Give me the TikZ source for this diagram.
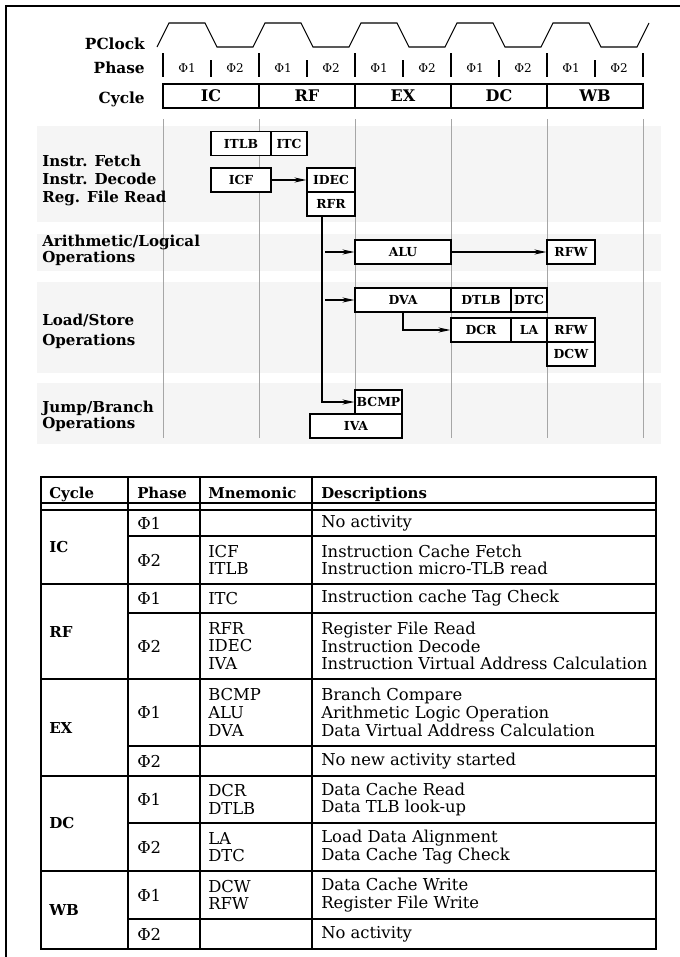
\documentclass[tikz,border=0pt]{standalone}
\usepackage{fontspec}
\setmainfont{DejaVu Serif}
\usetikzlibrary{arrows.meta,calc}

\begin{document}
\begin{tikzpicture}[x=0.75pt, y=-0.75pt,
  box/.style={rectangle, draw, line width=0.9pt, fill=white, inner sep=0pt, minimum height=18pt, minimum width=#1*0.75pt, font=\fontsize{9.3}{10}\selectfont\bfseries},
  cycbox/.style={rectangle, draw, line width=0.9pt, inner sep=0pt, minimum height=18pt, minimum width=72pt, font=\fontsize{12}{14}\selectfont\bfseries},
  arr/.style={-{Stealth[length=9pt, width=3.8pt]}, line width=0.9pt},
  rowlbl/.style={anchor=west, align=left, inner sep=0pt, font=\fontsize{11.3}{#1}\selectfont\bfseries},
  toplbl/.style={anchor=base east, inner sep=0pt, font=\fontsize{11.5}{13}\selectfont\bfseries},
  phi/.style={inner sep=0pt, font=\fontsize{9}{10}\selectfont},
  grid/.style={gray!70, line width=0.6pt},
  band/.style={fill=black!4},
  tcell/.style={anchor=west, align=left, inner sep=0pt, font=\fontsize{12.3}{13.3}\selectfont},
  thead/.style={anchor=base west, inner sep=0pt, font=\fontsize{11.2}{13}\selectfont\bfseries},
  tcyc/.style={anchor=west, inner sep=0pt, font=\fontsize{11.3}{13}\selectfont\bfseries},
  tline/.style={line width=0.9pt}
]
  \useasboundingbox (0,0) rectangle (679,957);
  \draw[line width=1pt] (6,975) -- (6,6) -- (690,6);

  \fill[band] (37,126) rectangle (661,222);
  \fill[band] (37,234) rectangle (661,271);
  \fill[band] (37,282) rectangle (661,373);
  \fill[band] (37,383) rectangle (661,444);
  \foreach \b in {163,259,...,643} \draw[grid] (\b,119) -- (\b,438);

  \node[toplbl] (pclock) at (145,49) {PClock};
  \node[toplbl] (phase) at (145,73) {Phase};
  \node[toplbl] (cycle) at (145,103) {Cycle};

  \draw[line width=0.8pt] (157,47) \foreach \b in {163,259,...,547} { -- (\b+6,23) -- (\b+42,23) -- (\b+54,47) -- (\b+90,47) } -- (649,23);
  \foreach \b in {163,259,...,643} \draw[line width=0.8pt] (\b,53) -- (\b,77);
  \foreach \b in {163,259,...,547} {
    \draw[line width=0.8pt] (\b+48,60) -- (\b+48,77);
    \node[phi] (pa\b) at (\b+24,68) {Φ1};
    \node[phi] (pb\b) at (\b+72,68) {Φ2};
  }

  \node[cycbox] (ic) at (211,96) {IC};
  \node[cycbox] (rf) at (307,96) {RF};
  \node[cycbox] (ex) at (403,96) {EX};
  \node[cycbox] (dc) at (499,96) {DC};
  \node[cycbox] (wb) at (595,96) {WB};

  \node[rowlbl=13.5pt] (fetch) at (42,180) {Instr. Fetch\\Instr. Decode\\Reg. File Read};
  \node[rowlbl=12pt] (arith) at (42,250) {Arithmetic/Logical\\Operations};
  \node[rowlbl=15pt] (ldst) at (42,331) {Load/Store\\Operations};
  \node[rowlbl=12pt] (jump) at (42,416) {Jump/Branch\\Operations};

  \node[box=60] (itlb) at (241,143.5) {ITLB};
  \node[box=36] (itc) at (289,143.5) {ITC};
  \node[box=60] (icf) at (241,180) {ICF};
  \node[box=48] (idec) at (331,180) {IDEC};
  \node[box=48] (rfr) at (331,204) {RFR};
  \node[box=96] (alu) at (403,252) {ALU};
  \node[box=48] (rfwa) at (571,252) {RFW};
  \node[box=96] (dva) at (403,300) {DVA};
  \node[box=60] (dtlb) at (481,300) {DTLB};
  \node[box=36] (dtc) at (529,300) {DTC};
  \node[box=60] (dcr) at (481,330) {DCR};
  \node[box=36] (la) at (529,330) {LA};
  \node[box=48] (rfwb) at (571,330) {RFW};
  \node[box=48] (dcw) at (571,354) {DCW};
  \node[box=47] (bcmp) at (378.5,402) {BCMP};
  \node[box=92] (iva) at (356,426) {IVA};

  \coordinate (bus) at (322,216);
  \draw[arr] (icf) -- (idec);
  \draw[arr] (alu) -- (rfwa);
  \draw[arr] (dva.south) |- (dcr);
  \draw[arr] (bus) |- (bcmp);
  \draw[arr] ($(bus |- alu)+(3,0)$) -- (alu);
  \draw[arr] ($(bus |- dva)+(3,0)$) -- (dva);

  \draw[tline] (41,477) rectangle (656,949);
  \foreach \y in {503,510,584,679,776,871} \draw[tline] (41,\y) -- (656,\y);
  \foreach \y in {536,613,746,823,919} \draw[tline] (128,\y) -- (656,\y);
  \foreach \x in {128,200,312} \draw[tline] (\x,477) -- (\x,949);

  \node[thead] (hcyc) at (49,498) {Cycle};
  \node[thead] (hph) at (137,498) {Phase};
  \node[thead] (hmn) at (208,498) {Mnemonic};
  \node[thead] (hds) at (321,498) {Descriptions};

  \node[tcyc] (tic) at (49,547) {IC};
  \node[tcyc] (trf) at (49,631.5) {RF};
  \node[tcyc] (tex) at (49,727.5) {EX};
  \node[tcyc] (tdc) at (49,823.5) {DC};
  \node[tcyc] (twb) at (49,910) {WB};

  \foreach \y/\p/\m/\d [count=\i] in {
    523/1/{}/{No activity},
    560/2/{ICF\\ITLB}/{Instruction Cache Fetch\\Instruction micro-TLB read},
    598.5/1/{ITC}/{Instruction cache Tag Check},
    646/2/{RFR\\IDEC\\IVA}/{Register File Read\\Instruction Decode\\Instruction Virtual Address Calculation},
    712.5/1/{BCMP\\ALU\\DVA}/{Branch Compare\\Arithmetic Logic Operation\\Data Virtual Address Calculation},
    761/2/{}/{No new activity started},
    799.5/1/{DCR\\DTLB}/{Data Cache Read\\Data TLB look-up},
    847/2/{LA\\DTC}/{Load Data Alignment\\Data Cache Tag Check},
    895/1/{DCW\\RFW}/{Data Cache Write\\Register File Write},
    934/2/{}/{No activity}} {
    \node[tcell] (ph\i) at (137,\y) {Φ\p};
    \node[tcell] (mn\i) at (208,\y) {\m};
    \node[tcell] (ds\i) at (321,\y) {\d};
  }
\end{tikzpicture}
\end{document}
